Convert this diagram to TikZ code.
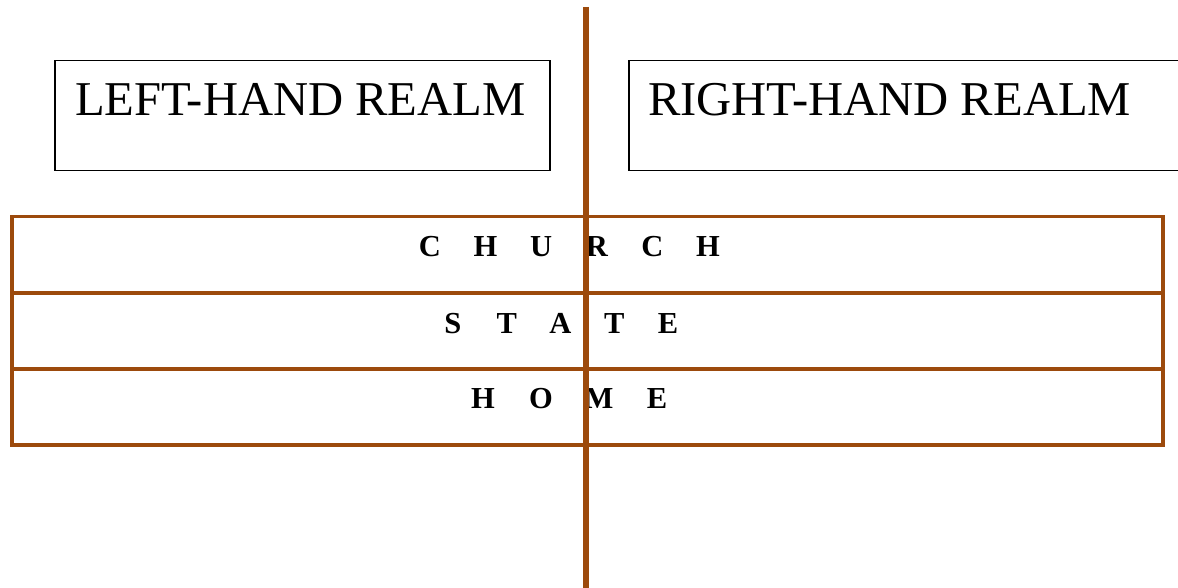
\documentclass[tikz,border=0pt]{standalone}
\usepackage{fontspec}
\setmainfont{Liberation Serif}
\definecolor{rust}{RGB}{156,74,12}
\newcommand{\spl}[2]{\makebox[#1]{#2}}
\begin{document}
\begin{tikzpicture}[x=1pt,y=-1pt,
  realmbox/.style={draw=black,line width=1.7pt,minimum height=110pt,anchor=north west,inner sep=0pt},
  realmtext/.style={font=\fontsize{48.6}{50}\selectfont,anchor=base west,inner sep=0pt},
  rowbox/.style={draw=rust,line width=3.5pt,minimum width=1151pt,minimum height=76pt,inner sep=0pt,anchor=north west},
  rowtext/.style={font=\bfseries\fontsize{30.5}{32}\selectfont,anchor=base,inner sep=0pt},
  divider/.style={draw=rust,line width=5.5pt}]
\useasboundingbox (0,0) rectangle (1178,588);
% realm boxes
\node[realmbox,minimum width=494.5pt] (leftbox) at (54.3,59.7) {};
\node[realmbox,minimum width=570pt] (rightbox) at (628,59.7) {};
\node[realmtext] (lefttext) at (75,115.5) {LEFT-HAND REALM};
\node[realmtext] (righttext) at (648,115.5) {RIGHT-HAND REALM};
% rows
\node[rowbox] (church) at (10,215) {};
\node[rowbox] (state) at (10,291) {};
\node[rowbox] (home) at (10,367) {};
\node[rowtext] (churchtext) at (569,257) {\spl{55.6pt}{C}\spl{55.6pt}{H}\spl{55.6pt}{U}\spl{55.6pt}{R}\spl{55.6pt}{C}\spl{55.6pt}{H}};
\node[rowtext] (statetext) at (560.5,333) {\spl{53.8pt}{S}\spl{53.8pt}{T}\spl{53.8pt}{A}\spl{53.8pt}{T}\spl{53.8pt}{E}};
\node[rowtext] (hometext) at (570,408.5) {\spl{58pt}{H}\spl{58pt}{O}\spl{58pt}{M}\spl{58pt}{E}};
% divider
\coordinate (dtop) at (586,7);
\coordinate (dbot) at (586,590);
\draw[divider] (dtop) -- (dbot);
\end{tikzpicture}
\end{document}
